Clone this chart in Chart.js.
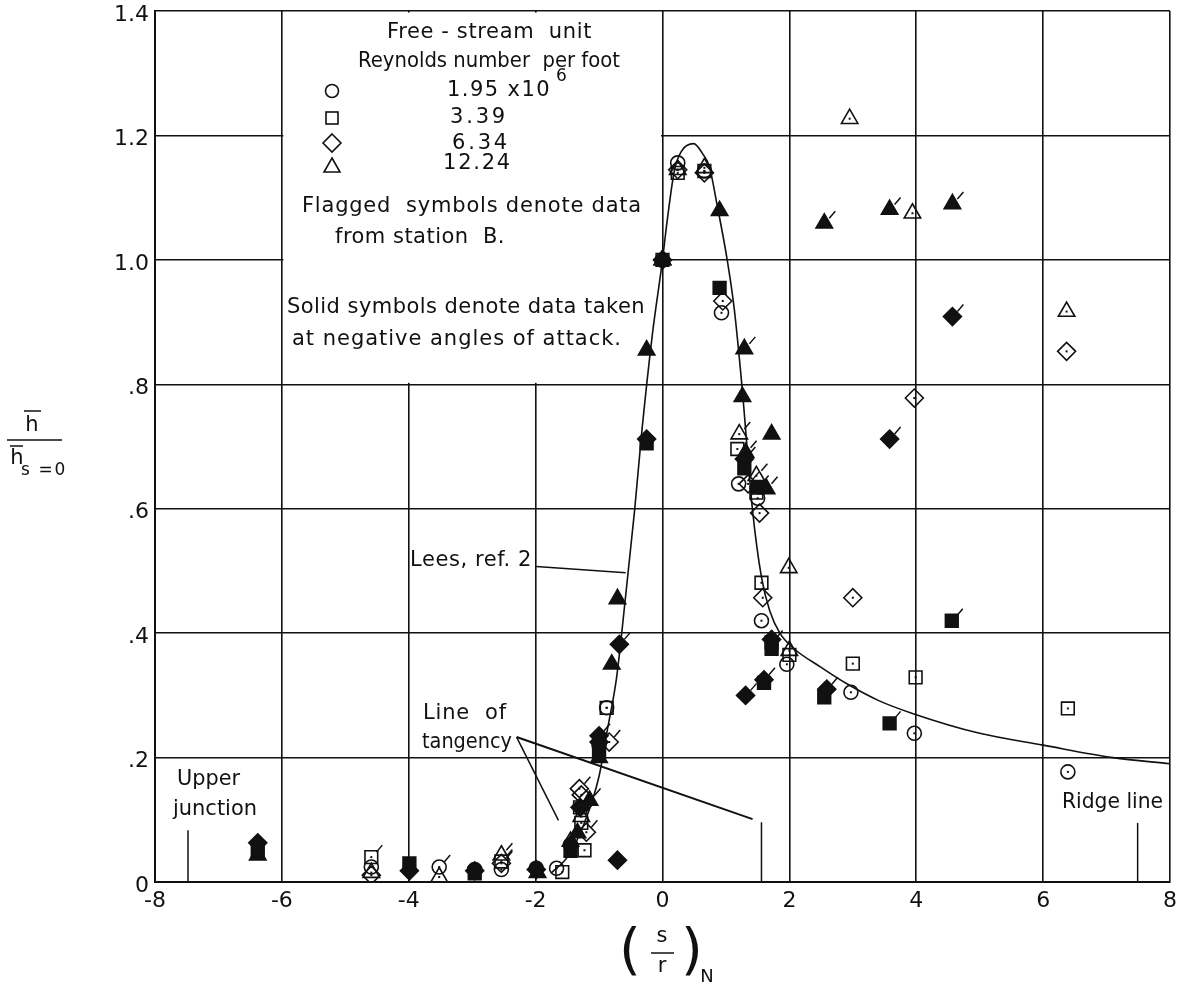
<!DOCTYPE html>
<html>
<head>
<meta charset="utf-8">
<script src="https://cdn.jsdelivr.net/npm/chart.js@4.4.1/dist/chart.umd.min.js"></script>
<style>
  body { margin: 0; background: #fff; }
  #wrap { position: relative; width: 1192px; height: 994px; }
</style>
</head>
<body>
<div id="wrap"><canvas id="chart"></canvas></div>
<script>
// tick labels
const xTickLabels = ["-8", "-6", "-4", "-2", "0", "2", "4", "6", "8"];
const yTickLabels = ["0", ".2", ".4", ".6", ".8", "1.0", "1.2", "1.4"];

// Lees, ref. 2 (theory curve)
const leesX = [-1.75, -1.5, -1.25, -1.0, -0.87, -0.73, -0.65, -0.44, -0.33, -0.16, 0, 0.07, 0.19, 0.3, 0.49, 0.65, 0.74, 0.85, 1.02, 1.13, 1.25, 1.42, 1.56, 1.69, 1.85, 2.05, 2.5, 2.9, 3.4, 3.94, 5.0, 6.0, 7.1, 8.0];
const leesY = [0.015, 0.04, 0.09, 0.17, 0.244, 0.324, 0.393, 0.597, 0.72, 0.88, 1.0, 1.06, 1.145, 1.175, 1.187, 1.168, 1.15, 1.094, 1.0, 0.922, 0.8, 0.597, 0.49, 0.436, 0.4, 0.377, 0.345, 0.319, 0.292, 0.271, 0.239, 0.22, 0.2, 0.19];

// Re = 1.95 x10^6 (circles)
const circleOpen = [[0.24, 1.156], [0.66, 1.143], [0.93, 0.915], [1.2, 0.64], [1.5, 0.617], [1.56, 0.42], [1.96, 0.35], [2.97, 0.305], [3.97, 0.239], [6.39, 0.177], [-0.88, 0.28], [-1.67, 0.022], [-4.59, 0.024], [-2.54, 0.02]];
const circleOpenFlag = [[-3.52, 0.024]];
const circleSolid = [[0, 1.0], [-1.0, 0.22], [-2.96, 0.02], [-1.45, 0.06], [-1.99, 0.022]];

// Re = 3.39 (squares)
const squareOpen = [[0.24, 1.14], [0.66, 1.143], [0, 1.0], [1.18, 0.696], [1.48, 0.626], [1.56, 0.481], [2.0, 0.365], [3.0, 0.351], [3.99, 0.329], [6.39, 0.279], [-0.88, 0.28], [-1.58, 0.016], [-1.23, 0.051], [-1.28, 0.095]];
const squareOpenFlag = [[-4.59, 0.04], [-2.54, 0.033], [-1.3, 0.12]];
const squareSolid = [[0.9, 0.955], [-0.25, 0.705], [1.29, 0.665], [1.72, 0.375], [1.6, 0.32], [2.55, 0.297], [-1.0, 0.21], [-3.99, 0.03], [-2.96, 0.014], [-1.45, 0.05], [-6.38, 0.05]];
const squareSolidFlag = [[1.5, 0.634], [4.56, 0.42], [3.58, 0.255], [1.72, 0.385]];

// Re = 6.34 (diamonds)
const diamondOpen = [[0.24, 1.145], [0.66, 1.14], [0.95, 0.934], [1.53, 0.593], [1.58, 0.457], [3.0, 0.457], [3.97, 0.778], [6.37, 0.853], [-4.59, 0.011], [-1.28, 0.14]];
const diamondOpenFlag = [[-0.84, 0.225], [-1.31, 0.15], [-1.2, 0.08], [1.35, 0.64], [-2.54, 0.03]];
const diamondSolid = [[0, 1.0], [-0.25, 0.712], [1.72, 0.39], [-0.71, 0.035], [-1.0, 0.225], [-6.38, 0.063], [-3.99, 0.018], [-2.96, 0.018], [-1.99, 0.02]];
const diamondSolidFlag = [[-0.68, 0.382], [1.31, 0.3], [1.6, 0.325], [2.59, 0.31], [3.58, 0.712], [4.57, 0.909], [1.29, 0.68], [-1.3, 0.12], [-1.0, 0.235]];

// Re = 12.24 (triangles)
const triOpen = [[0.24, 1.145], [0.66, 1.148], [0, 1.0], [2.95, 1.227], [3.94, 1.075], [6.37, 0.917], [1.99, 0.505], [2.0, 0.372], [-3.52, 0.008], [-4.59, 0.015]];
const triOpenFlag = [[1.21, 0.72], [1.48, 0.653], [-1.28, 0.105], [-2.54, 0.043], [-1.45, 0.065]];
const triSolid = [[0.9, 1.079], [-0.25, 0.855], [1.26, 0.78], [1.72, 0.72], [-0.71, 0.455], [-0.8, 0.35], [-1.0, 0.2], [-1.34, 0.079], [-6.38, 0.043], [0, 1.0], [-1.97, 0.015]];
const triSolidFlag = [[1.29, 0.857], [1.64, 0.632], [2.55, 1.059], [3.58, 1.081], [4.57, 1.09], [-1.15, 0.131], [1.31, 0.69]];

const INK = "#111";
const FONT = '"DejaVu Sans", sans-serif';
const KEY = 21; // text size in the key and notes

function pts(arr) {
  return arr.map((p) => ({ x: p[0], y: p[1] }));
}

function markers(arr, style, radius, solid, flag) {
  return {
    type: "scatter",
    data: pts(arr),
    pointStyle: style,
    pointRadius: radius,
    pointHoverRadius: radius,
    pointBorderWidth: 1.6,
    borderColor: INK,
    backgroundColor: solid ? INK : "rgba(0,0,0,0)",
    hollow: !solid,
    flag: flag,
    order: 1,
  };
}

// put text; with a width, spread the letters (or squeeze) to fill it
function put(ctx, s, x, y, size, align, w) {
  ctx.font = size + "px " + FONT;
  ctx.textBaseline = "middle";
  ctx.fillStyle = INK;
  ctx.letterSpacing = "0px";
  if (w) {
    const m = ctx.measureText(s).width;
    ctx.textAlign = "left";
    if (w >= m) {
      ctx.letterSpacing = (w - m) / s.length + "px";
      ctx.fillText(s, x, y);
      ctx.letterSpacing = "0px";
    } else {
      ctx.save();
      ctx.translate(x, y);
      ctx.scale(w / m, 1);
      ctx.fillText(s, 0, 0);
      ctx.restore();
    }
  } else {
    ctx.textAlign = align || "left";
    ctx.fillText(s, x, y);
  }
}

function seg(ctx, x1, y1, x2, y2, lw) {
  ctx.lineWidth = lw || 1.5;
  ctx.strokeStyle = INK;
  ctx.beginPath();
  ctx.moveTo(x1, y1);
  ctx.lineTo(x2, y2);
  ctx.stroke();
}

const paper = {
  id: "paper",
  beforeDatasetsDraw(chart) {
    const ctx = chart.ctx;
    const xs = chart.scales.x, ys = chart.scales.y;
    // white key box covering the grid
    const l = xs.getPixelForValue(-6) + 1.5, r = xs.getPixelForValue(0) - 1.5;
    const t = ys.getPixelForValue(1.4) + 1.5, b = ys.getPixelForValue(0.8) - 1.5;
    ctx.save();
    ctx.fillStyle = "#fff";
    ctx.fillRect(l, t, r - l, b - t);
    ctx.restore();
  },
  afterDatasetsDraw(chart) {
    const ctx = chart.ctx;
    const xs = chart.scales.x, ys = chart.scales.y;
    const px = (v) => xs.getPixelForValue(v);
    const py = (v) => ys.getPixelForValue(v);
    ctx.save();

    // flags and centre dots
    chart.data.datasets.forEach((ds, i) => {
      const meta = chart.getDatasetMeta(i);
      meta.data.forEach((el) => {
        if (ds.flag) seg(ctx, el.x + 5, el.y - 5, el.x + 11, el.y - 12, 1.5);
        if (ds.hollow) {
          ctx.fillStyle = INK;
          ctx.fillRect(el.x - 1, el.y - 1, 2, 2);
        }
      });
    });

    // key
    put(ctx, "Free - stream  unit", 387, 33, KEY, "left", 205);
    put(ctx, "Reynolds number  per foot", 358, 62, KEY, "left", 262);
    ctx.lineWidth = 1.6;
    ctx.strokeStyle = INK;
    ctx.beginPath(); ctx.arc(332, 91, 6.5, 0, Math.PI * 2); ctx.stroke();
    ctx.strokeRect(326, 112, 12, 12);
    ctx.beginPath(); ctx.moveTo(332, 134); ctx.lineTo(341, 143); ctx.lineTo(332, 152); ctx.lineTo(323, 143); ctx.closePath(); ctx.stroke();
    ctx.beginPath(); ctx.moveTo(332, 158); ctx.lineTo(340, 172); ctx.lineTo(324, 172); ctx.closePath(); ctx.stroke();
    put(ctx, "1.95 x10", 447, 91, KEY, "left", 104);
    put(ctx, "6", 556, 77, 17, "left");
    put(ctx, "3.39", 450, 118, KEY, "left", 58);
    put(ctx, "6.34", 452, 144, KEY, "left", 58);
    put(ctx, "12.24", 443, 164, KEY, "left", 69);
    put(ctx, "Flagged  symbols denote data", 302, 207, KEY, "left", 340);
    put(ctx, "from station  B.", 335, 238, KEY, "left", 170);
    put(ctx, "Solid symbols denote data taken", 287, 308, KEY, "left", 358);
    put(ctx, "at negative angles of attack.", 292, 340, KEY, "left", 330);

    // annotations
    put(ctx, "Lees, ref. 2", 410, 561, KEY, "left", 122);
    seg(ctx, px(-1.99), py(0.507), px(-0.58), py(0.497), 1.5);
    put(ctx, "Line  of", 423, 714, KEY, "left", 84);
    put(ctx, "tangency", 422, 743, KEY, "left", 90);
    seg(ctx, px(-2.3), py(0.233), px(1.42), py(0.101), 2);
    seg(ctx, px(-2.3), py(0.233), px(-1.64), py(0.099), 1.5);
    seg(ctx, px(1.56), py(0.096), px(1.56), py(0), 1.5);
    put(ctx, "Upper", 177, 780, KEY, "left", 63);
    put(ctx, "junction", 173, 810, KEY, "left", 84);
    seg(ctx, px(-7.48), py(0.083), px(-7.48), py(0), 1.5);
    put(ctx, "Ridge line", 1062, 803, KEY, "left", 101);
    seg(ctx, px(7.49), py(0.095), px(7.49), py(0), 1.5);

    // x title (s/r)_N
    put(ctx, "(", 630, 953, 56, "center");
    put(ctx, ")", 692, 953, 56, "center");
    put(ctx, "s", 662, 937, 21, "center");
    seg(ctx, 651, 953, 674, 953, 1.5);
    put(ctx, "r", 662, 967, 21, "center");
    put(ctx, "N", 707, 977, 18, "center");

    // y title  h / h_(s=0)
    put(ctx, "h", 32, 426, 21, "center");
    seg(ctx, 24, 411, 41, 411, 1.5);
    seg(ctx, 7, 440, 62, 440, 1.5);
    put(ctx, "h", 17, 459, 21, "center");
    seg(ctx, 10, 446, 23, 446, 1.5);
    put(ctx, "s =0", 21, 471, 17, "left", 46);

    ctx.restore();
  },
};

const datasets = [
  {
    type: "line",
    data: leesX.map((x, i) => ({ x: x, y: leesY[i] })),
    borderColor: INK,
    borderWidth: 1.6,
    pointRadius: 0,
    fill: false,
    cubicInterpolationMode: "monotone",
    order: 5,
  },
  markers(circleOpen, "circle", 7, false, false),
  markers(circleOpenFlag, "circle", 7, false, true),
  markers(circleSolid, "circle", 7, true, false),
  markers(squareOpen, "rect", 9, false, false),
  markers(squareOpenFlag, "rect", 9, false, true),
  markers(squareSolid, "rect", 9, true, false),
  markers(squareSolidFlag, "rect", 9, true, true),
  markers(diamondOpen, "rectRot", 9, false, false),
  markers(diamondOpenFlag, "rectRot", 9, false, true),
  markers(diamondSolid, "rectRot", 9, true, false),
  markers(diamondSolidFlag, "rectRot", 9, true, true),
  markers(triOpen, "triangle", 9.5, false, false),
  markers(triOpenFlag, "triangle", 9.5, false, true),
  markers(triSolid, "triangle", 9.5, true, false),
  markers(triSolidFlag, "triangle", 9.5, true, true),
];

new Chart(document.getElementById("chart"), {
  type: "scatter",
  data: { datasets: datasets },
  options: {
    responsive: true,
    maintainAspectRatio: false,
    animation: false,
    layout: { padding: { left: 0, top: 10, right: 22, bottom: 0 } },
    plugins: { legend: { display: false }, tooltip: { enabled: false } },
    scales: {
      x: {
        type: "linear",
        min: -8,
        max: 8,
        afterFit: (s) => {
          s.height = 112;
          s.paddingLeft = 0;
          s.paddingRight = 0;
        },
        ticks: {
          stepSize: 2,
          padding: 6,
          color: INK,
          font: { family: FONT, size: 22 },
          maxRotation: 0,
          callback: (v, i) => xTickLabels[i],
        },
        grid: { color: INK, lineWidth: 1.6, drawTicks: false },
        border: { color: INK, width: 2 },
      },
      y: {
        type: "linear",
        min: 0,
        max: 1.4,
        afterFit: (s) => {
          s.width = 155;
          s.paddingTop = 0;
          s.paddingBottom = 0;
        },
        ticks: {
          stepSize: 0.2,
          padding: 6,
          labelOffset: 4,
          color: INK,
          font: { family: FONT, size: 22 },
          callback: (v, i) => yTickLabels[i],
        },
        grid: { color: INK, lineWidth: 1.6, drawTicks: false },
        border: { color: INK, width: 2 },
      },
    },
  },
  plugins: [paper],
});
</script>
</body>
</html>
